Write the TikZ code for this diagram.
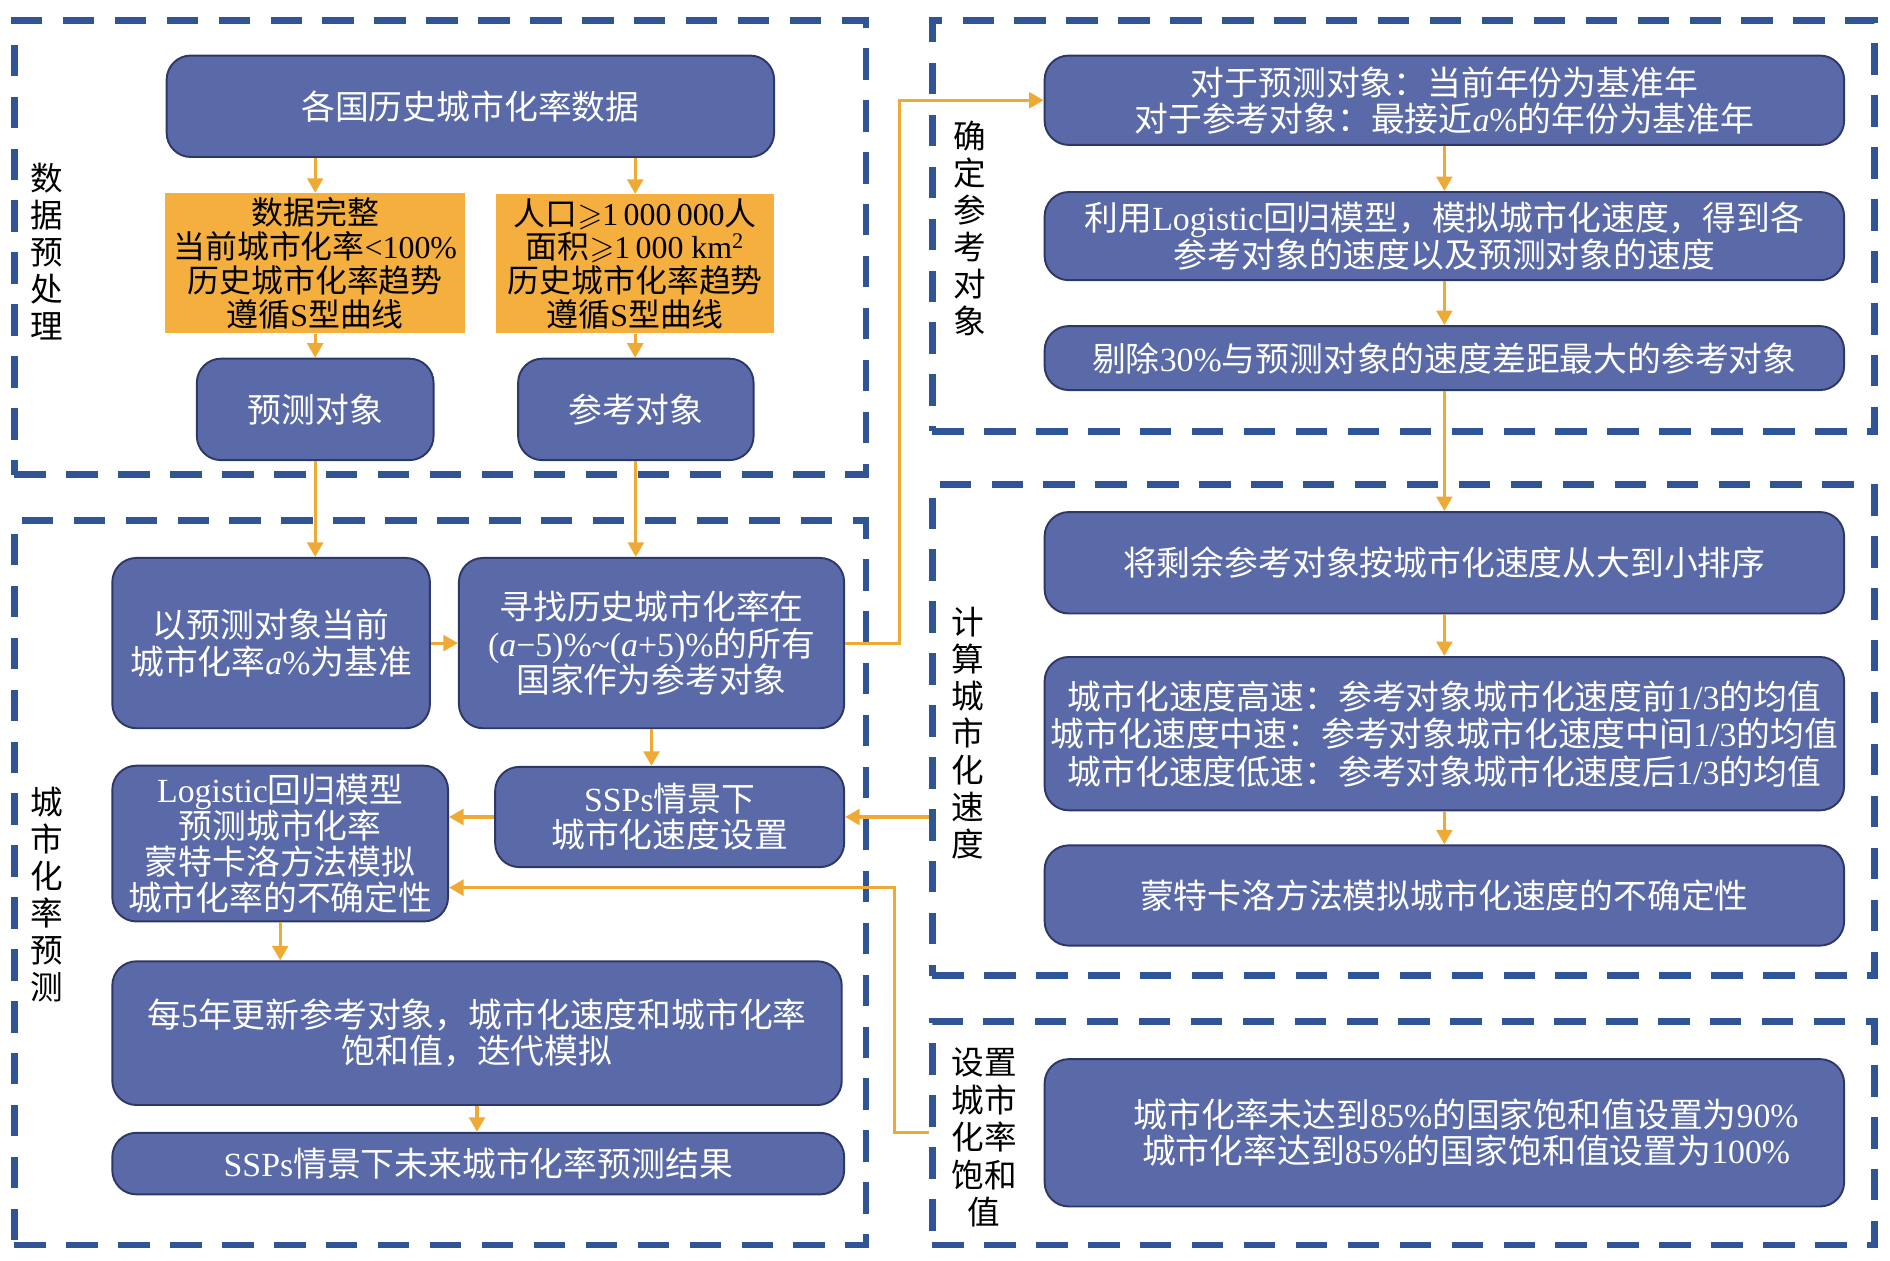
\documentclass[tikz,border=0pt]{standalone}
\usepackage{fontspec}
\usepackage{amssymb}
\setmainfont{Liberation Serif}
\newfontfamily\cjk{Noto Sans CJK SC}
\newfontfamily\tms{Liberation Serif}
\newcommand\E[1]{{\tms #1}}
\newcommand\Ia{{\tms\itshape a}}
\usetikzlibrary{arrows.meta,fit}
\definecolor{frameblue}{HTML}{2F5597}
\definecolor{boxfill}{HTML}{5A69A8}
\definecolor{boxline}{HTML}{2E3866}
\definecolor{orfill}{HTML}{F4AF3F}
\definecolor{orline}{HTML}{EFA935}
\tikzset{
 bx/.style={draw=boxline, line width=0.8pt, fill=boxfill, rounded corners=10pt, inner sep=0pt, align=center, text=white, font=\cjk\fontsize{14pt}{15pt}\selectfont},
 obx/.style={fill=orfill, inner sep=0pt, align=center, text=black, font=\cjk\fontsize{13.2pt}{14pt}\selectfont},
 frm/.style={draw=frameblue, line width=2.8pt, dash pattern=on 13pt off 8.5pt, inner sep=0pt},
 lbl/.style={align=center, text=black, font=\cjk\fontsize{13.5pt}{15.3pt}\selectfont, inner sep=0pt},
 arr/.style={draw=orline, line width=1.3pt, -{Triangle[length=6pt,width=6.5pt]}},
}
% name, style, x1, y1, x2, y2, text
\newcommand\bxat[7]{%
 \pgfmathsetmacro\bxcx{(#3+#5)/2}\pgfmathsetmacro\bxcy{(#4+#6)/2}%
 \pgfmathsetmacro\bxw{(#5-#3)*0.5}\pgfmathsetmacro\bxh{(#6-#4)*0.5}%
 \node[#2, minimum width=\bxw pt, minimum height=\bxh pt] (#1) at (\bxcx,\bxcy) {#7};}
\begin{document}
\begin{tikzpicture}[x=0.5pt,y=-0.5pt]
\useasboundingbox (0,0) rectangle (1565,1044);
% frames
\node[frm, fit={(12,17) (717,393)}] (fA) {};
\node[frm, fit={(12,431) (717,1031)}] (fB) {};
\node[frm, fit={(772,17) (1552,357)}] (fC) {};
\node[frm, fit={(772,401) (1552,808)}] (fD) {};
\node[frm, fit={(772,846) (1552,1031)}] (fE) {};
% labels
\node[lbl] (lA) at (39,208) {数\\据\\预\\处\\理};
\node[lbl] (lB) at (39,741) {城\\市\\化\\率\\预\\测};
\node[lbl] (lC) at (803,189) {确\\定\\参\\考\\对\\象};
\node[lbl] (lD) at (801,607) {计\\算\\城\\市\\化\\速\\度};
\node[lbl, font=\cjk\fontsize{13.5pt}{15.5pt}\selectfont] (lE) at (815,942) {设置\\城市\\化率\\饱和\\值};
% left column
\bxat{top}{bx}{138}{46}{641}{130}{各国历史城市化率数据}
\bxat{o1}{obx}{137}{160}{385}{276}{数据完整\\当前城市化率\E{<100\%}\\历史城市化率趋势\\遵循\E{S}型曲线}
\bxat{o2}{obx}{411}{161}{641}{276}{人口\E{$\geqslant$1\,000\,000}人\\面积\E{$\geqslant$1\,000 km\textsuperscript{2}}\\历史城市化率趋势\\遵循\E{S}型曲线}
\bxat{yuce}{bx}{163}{297}{359}{381}{预测对象}
\bxat{cankao}{bx}{429}{297}{624}{381}{参考对象}
\bxat{yi}{bx}{93}{462}{356}{603}{以预测对象当前\\城市化率\Ia\E{\%}为基准}
\bxat{xun}{bx}{380}{462}{699}{603}{寻找历史城市化率在\\\E{(\Ia−5)\%\textasciitilde(\Ia+5)\%}的所有\\国家作为参考对象}
\bxat{logi}{bx}{93}{634}{371}{763}{\E{Logistic}回归模型\\预测城市化率\\蒙特卡洛方法模拟\\城市化率的不确定性}
\bxat{ssps}{bx}{410}{635}{699}{718}{\E{SSPs}情景下\\城市化速度设置}
\bxat{mei}{bx}{93}{796}{697}{915}{每\E{5}年更新参考对象，城市化速度和城市化率\\饱和值，迭代模拟}
\bxat{weilai}{bx}{93}{938}{699}{989}{\E{SSPs}情景下未来城市化率预测结果}
% right column
\bxat{duiyu}{bx}{865}{46}{1527}{120}{对于预测对象：当前年份为基准年\\对于参考对象：最接近\Ia\E{\%}的年份为基准年}
\bxat{liyong}{bx}{865}{159}{1527}{232}{利用\E{Logistic}回归模型，模拟城市化速度，得到各\\参考对象的速度以及预测对象的速度}
\bxat{tichu}{bx}{865}{270}{1527}{323}{剔除\E{30\%}与预测对象的速度差距最大的参考对象}
\bxat{jiang}{bx}{865}{424}{1527}{508}{将剩余参考对象按城市化速度从大到小排序}
\bxat{gaosu}{bx, font=\cjk\fontsize{14pt}{15.5pt}\selectfont}{865}{544}{1527}{671}{城市化速度高速：参考对象城市化速度前\E{1/3}的均值\\城市化速度中速：参考对象城市化速度中间\E{1/3}的均值\\城市化速度低速：参考对象城市化速度后\E{1/3}的均值}
\bxat{meng}{bx}{865}{700}{1527}{783}{蒙特卡洛方法模拟城市化速度的不确定性}
\bxat{baohe}{bx}{865}{877}{1527}{999}{\hspace*{18pt}城市化率未达到\E{85\%}的国家饱和值设置为\E{90\%}\\\hspace*{18pt}城市化率达到\E{85\%}的国家饱和值设置为\E{100\%}}
% connectors
\draw[arr] (top.south -| o1.north) -- (o1.north);
\draw[arr] (top.south -| o2.north) -- (o2.north);
\draw[arr] (o1.south) -- (o1.south |- yuce.north);
\draw[arr] (o2.south) -- (o2.south |- cankao.north);
\draw[arr] (yuce.south) -- (yuce.south |- yi.north);
\draw[arr] (cankao.south) -- (cankao.south |- xun.north);
\draw[arr] (yi.east) -- (xun.west);
\draw[arr] (xun.south) -- (xun.south |- ssps.north);
\draw[arr] (ssps.west) -- (ssps.west -| logi.east);
\draw[arr] (logi.south) -- (logi.south |- mei.north);
\draw[arr] (mei.south) -- (mei.south |- weilai.north);
\draw[arr] (xun.east) -- ++(45,0) |- (duiyu.west);
\draw[arr] (duiyu.south) -- (liyong.north);
\draw[arr] (liyong.south) -- (tichu.north);
\draw[arr] (tichu.south) -- (jiang.north);
\draw[arr] (jiang.south) -- (gaosu.north);
\draw[arr] (gaosu.south) -- (meng.north);
\draw[arr] (fD.west |- ssps.east) -- (ssps.east);
\coordinate (eY) at (0,938);
\coordinate (eIn) at (fE.west |- eY);
\coordinate (eTurn) at (741,735);
\draw[arr] (eIn) -| (eTurn) -- (logi.east |- eTurn);
\end{tikzpicture}
\end{document}
